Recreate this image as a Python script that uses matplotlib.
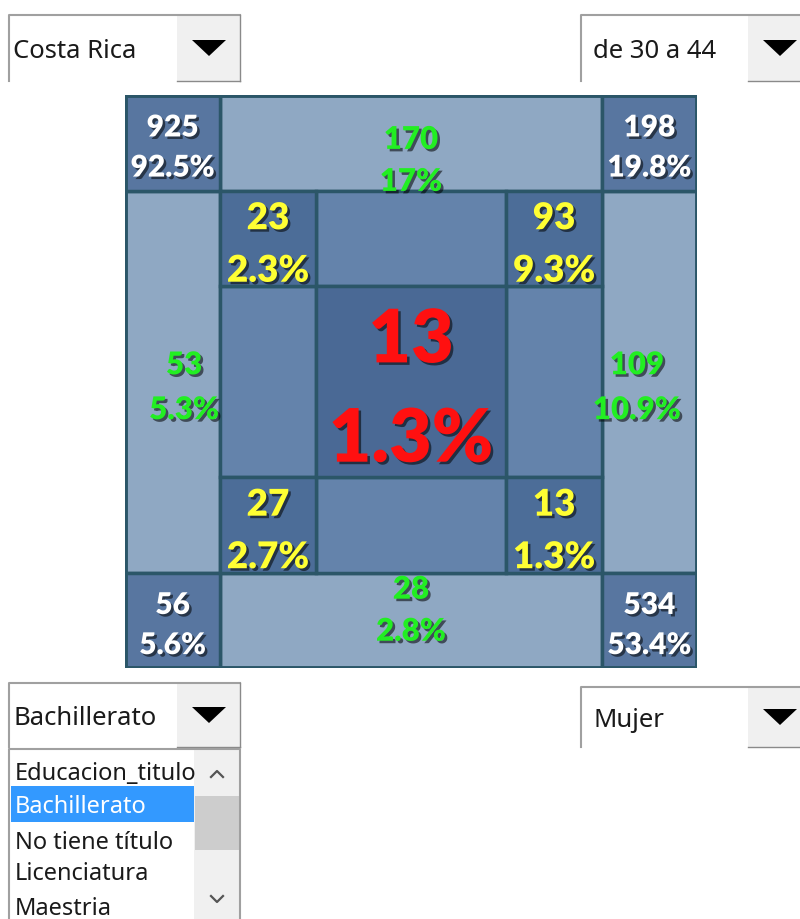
import matplotlib
matplotlib.use("Agg")
import matplotlib.pyplot as plt
from matplotlib.patches import Rectangle, Polygon
import matplotlib.patheffects as pe

# ---------------- data ----------------
country = "Costa Rica"
age_group = "de 30 a 44"
education = "Bachillerato"
sex = "Mujer"
education_options = ["Educacion_titulo", "Bachillerato", "No tiene título", "Licenciatura", "Maestria"]

# outer corners: top-left, top-right, bottom-left, bottom-right
corner_counts = [925, 198, 56, 534]
corner_pcts = ["92.5%", "19.8%", "5.6%", "53.4%"]
# outer bands: top, left, right, bottom
band_counts = [170, 53, 109, 28]
band_pcts = ["17%", "5.3%", "10.9%", "2.8%"]
# inner corners: top-left, top-right, bottom-left, bottom-right
inner_counts = [23, 93, 27, 13]
inner_pcts = ["2.3%", "9.3%", "2.7%", "1.3%"]
# center
center_count = 13
center_pct = "1.3%"

# ---------------- figure ----------------
W, H = 800, 920
fig = plt.figure(figsize=(W / 100, H / 100), dpi=100)
fig.patch.set_facecolor("white")

ui = fig.add_axes([0, 0, 1, 1])
ui.set_xlim(0, W)
ui.set_ylim(H, 0)
ui.axis("off")

UI_FONT = ["Noto Sans", "DejaVu Sans"]
GRID_FONT = ["Lato", "DejaVu Sans"]


def dropdown(x0, y0, x1, y1, btn_x, text, pad):
    ui.add_patch(Rectangle((x0, y0), x1 - x0, y1 - y0, facecolor="white", edgecolor="none"))
    ui.add_patch(Rectangle((btn_x, y0), x1 - btn_x, y1 - y0, facecolor="#f0f0f0", edgecolor="none"))
    ui.plot([x0, x0, x1], [y1, y0, y0], color="#a0a0a0", lw=1.5)
    ui.plot([btn_x, x1], [y1, y1], color="#8a8a8a", lw=1.0)
    if x1 < W:
        ui.plot([x1, x1], [y0, y1], color="#8a8a8a", lw=1.0)
    cx = btn_x + 32
    cy = (y0 + y1) / 2
    ui.add_patch(Polygon([[cx - 17, cy - 8], [cx + 17, cy - 8], [cx, cy + 8]],
                         closed=True, facecolor="black", edgecolor="none"))
    ui.text(x0 + pad, cy + 3, text, fontsize=18.5, family=UI_FONT, color="#1a1a1a",
            ha="left", va="center")


dropdown(9, 16, 240, 82, 177, country, 4)
dropdown(581, 16, 812, 82, 748, age_group, 12)
dropdown(9, 684, 240, 748, 177, education, 5)
dropdown(581, 688, 812, 748, 748, sex, 12)

# list box
ui.add_patch(Rectangle((9, 750), 231, 175, facecolor="white", edgecolor="none"))
ui.plot([9, 9, 240, 240], [925, 750, 750, 925], color="#a0a0a0", lw=1.5)
ui.add_patch(Rectangle((194, 751), 46, 175, facecolor="#f0f0f0", edgecolor="none"))
ui.add_patch(Rectangle((195, 797), 45, 54, facecolor="#cdcdcd", edgecolor="none"))
ui.plot([211, 217, 223], [778, 772, 778], color="#555555", lw=1.6)
ui.plot([211, 217, 223], [897, 903, 897], color="#555555", lw=1.6)
item_y = [774, 807, 843, 874, 909]
sel = education_options.index(education)
ui.add_patch(Rectangle((11, 787), 183, 36, facecolor="#3399ff", edgecolor="none"))
clip = Rectangle((9, 750), 184, 175, transform=ui.transData, facecolor="none", edgecolor="none")
ui.add_patch(clip)
for i, (opt, yy) in enumerate(zip(education_options, item_y)):
    t = ui.text(15, yy, opt, fontsize=17, family=UI_FONT,
                color="white" if i == sel else "#1a1a1a", ha="left", va="center")
    t.set_clip_path(clip)

# ---------------- grid ----------------
gx0, gx1, gy0, gy1 = 125, 697, 96, 669
ax = fig.add_axes([gx0 / W, 1 - gy1 / H, (gx1 - gx0) / W, (gy1 - gy0) / H])
ax.set_xlim(0, 6)
ax.set_ylim(6, 0)
ax.axis("off")

EDGE = "#2b5668"
C_CORNER = "#5876a0"
C_BAND = "#8fa8c3"
C_INNER = "#4c6d98"
C_INBAND = "#6483ab"
C_CENTER = "#4a6995"


def cell(x, y, w, h, fc):
    ax.add_patch(Rectangle((x, y), w, h, facecolor=fc, edgecolor=EDGE, lw=2.5))


shadow = [pe.SimplePatchShadow(offset=(1.8, -1.8), shadow_rgbFace="black", alpha=0.55), pe.Normal()]


def label(x, y, s, color, size):
    ax.text(x, y, s, fontsize=size, color=color, family=GRID_FONT, fontweight="heavy",
            ha="center", va="center", path_effects=shadow, clip_on=False, zorder=5)


# outer bands
cell(1, 0, 4, 1, C_BAND)
cell(0, 1, 1, 4, C_BAND)
cell(5, 1, 1, 4, C_BAND)
cell(1, 5, 4, 1, C_BAND)
# outer corners
corner_pos = [(0, 0), (5, 0), (0, 5), (5, 5)]
for (x, y) in corner_pos:
    cell(x, y, 1, 1, C_CORNER)
# inner bands
cell(2, 1, 2, 1, C_INBAND)
cell(1, 2, 1, 2, C_INBAND)
cell(4, 2, 1, 2, C_INBAND)
cell(2, 4, 2, 1, C_INBAND)
# inner corners
inner_pos = [(1, 1), (4, 1), (1, 4), (4, 4)]
for (x, y) in inner_pos:
    cell(x, y, 1, 1, C_INNER)
# center
cell(2, 2, 2, 2, C_CENTER)
ax.add_patch(Rectangle((0, 0), 6, 6, facecolor="none", edgecolor=EDGE, lw=3.5, zorder=4))

# labels: corners (white)
for (x, y), c, p in zip(corner_pos, corner_counts, corner_pcts):
    label(x + 0.5, y + 0.34, str(c), "white", 21.5)
    label(x + 0.5, y + 0.76, p, "white", 21.5)

# bands (green)
green = "#22ee22"
band_xy = [(3.0, 0.47, 0.91), (0.62, 2.83, 3.30), (5.37, 2.83, 3.30), (3.0, 5.18, 5.62)]
for (x, ya, yb), c, p in zip(band_xy, band_counts, band_pcts):
    label(x, ya, str(c), green, 22.5)
    label(x, yb, p, green, 22.5)

# inner corners (yellow)
yellow = "#ffff33"
for (x, y), c, p in zip(inner_pos, inner_counts, inner_pcts):
    label(x + 0.5, y + 0.29, str(c), yellow, 26.5)
    label(x + 0.5, y + 0.84, p, yellow, 26.5)

# center (red)
label(3.0, 2.58, str(center_count), "#ff1010", 53)
label(3.0, 3.62, center_pct, "#ff1010", 53)

fig.savefig("out.png", dpi=100, facecolor="white")
